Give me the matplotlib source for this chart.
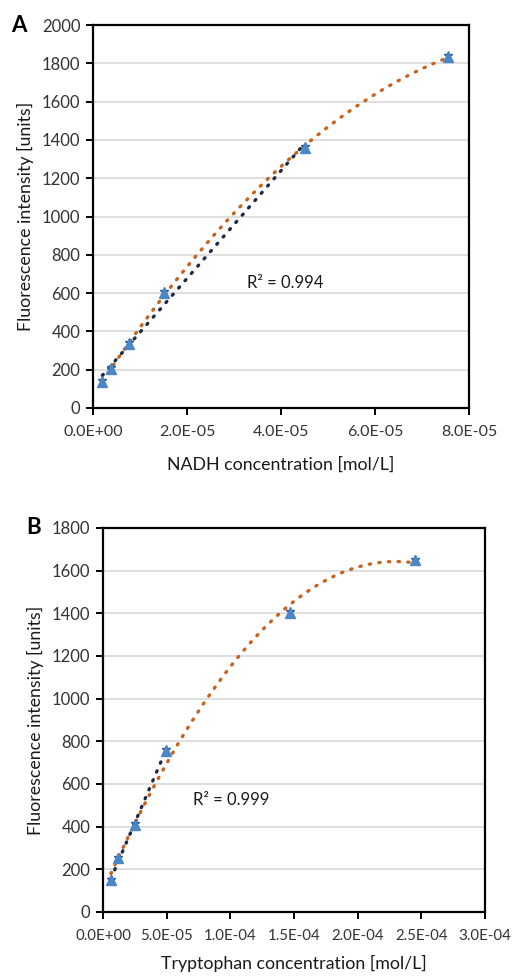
import numpy as np
import matplotlib
matplotlib.use("Agg")
import matplotlib.pyplot as plt
from matplotlib.ticker import FuncFormatter, MultipleLocator

plt.rcParams['font.family'] = ['Lato', 'DejaVu Sans']

# Panel A: NADH
nadh_conc = [2.0e-6, 3.8e-6, 7.6e-6, 1.5e-5, 4.5e-5, 7.55e-5]
nadh_fluor = [137, 202, 334, 602, 1360, 1832]
nadh_r2 = "R² = 0.994"

# Panel B: Tryptophan
trp_conc = [6.2e-6, 1.2e-5, 2.48e-5, 4.92e-5, 1.47e-4, 2.45e-4]
trp_fluor = [148, 251, 408, 757, 1402, 1648]
trp_r2 = "R² = 0.999"

W, H = 513, 976
fig = plt.figure(figsize=(W / 100, H / 100), dpi=100)

ORANGE = '#c5631f'
NAVY = '#1c2a44'
BLUE = '#4a86c8'
TXT = '#333333'
FS = 12


def sci(v, pos):
    if v == 0:
        return '0.0E+00'
    return '%.1E' % v


def panel(rect, x, y, n_lin, xmax, ymax, xstep, r2, r2pos, xlabel, letter,
          letter_pos, xfs, xlpad):
    ax = fig.add_axes(rect)
    x = np.array(x)
    y = np.array(y)
    # quadratic trend through all points
    pq = np.polyfit(x, y, 2)
    xs = np.linspace(x.min(), x.max(), 200)
    ax.plot(xs, np.polyval(pq, xs), color=ORANGE, lw=2.4,
            linestyle=(0, (0.4, 2.5)), dash_capstyle='round', zorder=3)
    # linear trend through first points
    pl = np.polyfit(x[:n_lin], y[:n_lin], 1)
    xl = np.linspace(x[0], x[n_lin - 1], 100)
    ax.plot(xl, np.polyval(pl, xl), color=NAVY, lw=2.4,
            linestyle=(0, (0.4, 2.5)), dash_capstyle='round', zorder=3)
    ax.plot(x, y + ymax * 0.005, linestyle='none', marker='*', ms=6,
            color='#2d5e95', zorder=3.5)
    ax.plot(x, y, linestyle='none', marker='^', ms=7.5, color=BLUE, zorder=4)
    ax.set_xlim(0, xmax)
    ax.set_ylim(0, ymax)
    ax.xaxis.set_major_locator(MultipleLocator(xstep))
    ax.yaxis.set_major_locator(MultipleLocator(200))
    ax.xaxis.set_major_formatter(FuncFormatter(sci))
    ax.grid(axis='y', color='#d9d9d9', lw=1.2, zorder=0)
    ax.set_axisbelow(True)
    for s in ax.spines.values():
        s.set_color('#000000')
        s.set_linewidth(1.6)
    ax.tick_params(axis='both', labelcolor=TXT, length=5,
                   width=1.4, color='#000000', pad=4)
    ax.tick_params(axis='y', labelsize=FS)
    ax.tick_params(axis='x', labelsize=xfs, pad=7)
    ax.set_xlabel(xlabel, fontsize=FS + 0.8, color='#1a1a1a', labelpad=xlpad)
    ax.set_ylabel('Fluorescence intensity [units]', fontsize=FS + 0.8,
                  color='#1a1a1a', labelpad=6)
    ax.text(r2pos[0], r2pos[1], r2, fontsize=FS, color='#1a1a1a',
            ha='left', va='center', zorder=5)
    fig.text(letter_pos[0] / W, 1 - letter_pos[1] / H, letter, fontsize=16,
             fontweight='bold', ha='left', va='center', color='#000000')
    return ax


panel([93 / W, 1 - 408 / H, (469 - 93) / W, (408 - 25) / H],
      nadh_conc, nadh_fluor, 5, 8e-5, 2000, 2e-5, nadh_r2, (3.28e-5, 655),
      'NADH concentration [mol/L]', 'A', (11, 26), 11.5, 13)

panel([103 / W, 1 - 912 / H, (485 - 103) / W, (912 - 528) / H],
      trp_conc, trp_fluor, 4, 3e-4, 1800, 5e-5, trp_r2, (7.05e-5, 525),
      'Tryptophan concentration [mol/L]', 'B', (26, 527), 10.8, 9)

fig.savefig('out.png', dpi=100)
